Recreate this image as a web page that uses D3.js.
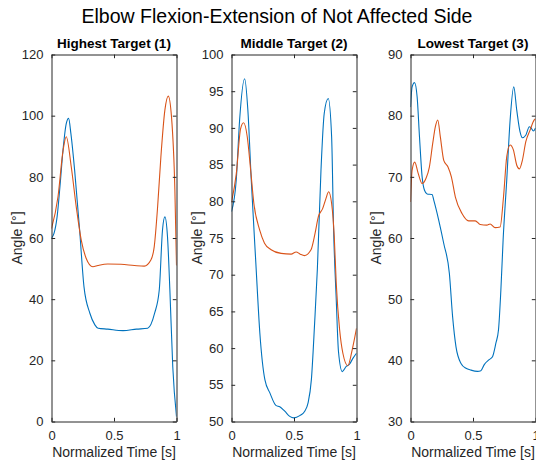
<!DOCTYPE html>
<html>
<head>
<meta charset="utf-8">
<script src="https://cdn.jsdelivr.net/npm/d3@7"></script>
<style>
  body { margin: 0; background: #fff; }
  svg { display: block; font-family: "Liberation Sans", Arial, sans-serif; }
</style>
</head>
<body>
<div class="container"></div>
<script>
const width = 536,
    height = 463,
    top0 = 54.5,
    bottom0 = 421.5,
    panelW = 125;

const panelLefts = [51.5, 231.5, 410.5];

const titles = ["Highest Target (1)", "Middle Target (2)", "Lowest Target (3)"];
const yDomains = [[0, 120], [50, 100], [30, 90]];
const yTicks = [[0, 20, 40, 60, 80, 100, 120], [50, 55, 60, 65, 70, 75, 80, 85, 90, 95, 100], [30, 40, 50, 60, 70, 80, 90]];
const xTicks = [0, 0.5, 1];

// Highest target
const t1Blue = [0, 0.02, 0.045, 0.068, 0.092, 0.118, 0.137, 0.155, 0.185, 0.225, 0.26, 0.307, 0.347, 0.373, 0.45, 0.572, 0.68, 0.77, 0.825, 0.862, 0.888, 0.907, 0.928, 0.947, 0.97, 1];
const v1Blue = [60, 61.5, 67, 77, 88.7, 97.4, 99.1, 94.2, 82.2, 62.6, 44, 35.4, 31.6, 30.5, 30.2, 29.7, 30.2, 30.5, 35.4, 43, 62.6, 66.9, 60.4, 43, 18, 1.6];
const t1Orange = [0, 0.052, 0.092, 0.118, 0.158, 0.198, 0.238, 0.277, 0.331, 0.371, 0.45, 0.556, 0.663, 0.742, 0.795, 0.822, 0.849, 0.875, 0.907, 0.934, 0.96, 0.987, 1];
const v1Orange = [63.1, 73.5, 88.5, 93.1, 83.3, 70.2, 59.3, 53.4, 50.6, 51, 51.5, 51.4, 51, 50.8, 52.8, 57.2, 70.2, 86.5, 101.8, 106.4, 99.6, 75.7, 51];

// Middle target
const t2Blue = [0, 0.038, 0.065, 0.105, 0.131, 0.158, 0.195, 0.227, 0.267, 0.307, 0.355, 0.386, 0.426, 0.466, 0.5, 0.546, 0.586, 0.612, 0.639, 0.665, 0.687, 0.716, 0.742, 0.774, 0.801, 0.817, 0.838, 0.856, 0.886, 0.918, 0.944, 0.971, 1];
const v2Blue = [78.6, 82.9, 91.1, 96.7, 92.4, 82.9, 71.5, 62, 55.7, 53.9, 52.2, 52, 51.4, 50.7, 50.5, 50.8, 51.4, 52.5, 55.7, 63.4, 70.8, 84.3, 92, 94, 88.8, 76, 66.6, 59.5, 56.8, 57.5, 57.8, 58.6, 59.3];
const t2Orange = [0, 0.038, 0.073, 0.097, 0.126, 0.153, 0.179, 0.225, 0.264, 0.317, 0.397, 0.477, 0.517, 0.55, 0.583, 0.636, 0.668, 0.695, 0.729, 0.756, 0.777, 0.801, 0.822, 0.838, 0.865, 0.891, 0.931, 0.966, 1];
const v2Orange = [79.9, 83.7, 89.9, 90.7, 88.8, 84.3, 79.7, 76.1, 74.3, 73.4, 72.9, 72.8, 73.1, 72.8, 72.6, 73.4, 75.6, 77.9, 79, 80.4, 81.3, 79.7, 75.2, 68.8, 62.5, 59.3, 57.6, 59.8, 62.7];

// Lowest target
const t3Blue = [0, 0.013, 0.032, 0.053, 0.072, 0.093, 0.112, 0.133, 0.173, 0.186, 0.226, 0.266, 0.311, 0.337, 0.364, 0.404, 0.444, 0.484, 0.536, 0.563, 0.59, 0.629, 0.656, 0.683, 0.704, 0.723, 0.741, 0.77, 0.797, 0.826, 0.85, 0.876, 0.895, 0.922, 0.951, 0.964, 0.983, 1];
const v3Blue = [81.4, 84.7, 85.4, 83.1, 76.5, 70, 67.8, 67.2, 67.1, 66.2, 62.9, 59.1, 54.2, 47.1, 42.2, 39.5, 38.7, 38.4, 38.2, 38.3, 39.3, 40.1, 40.6, 42.8, 45, 51.5, 59.7, 69.5, 79.3, 84.7, 80.9, 77.4, 76.4, 76.8, 78.2, 78, 77.5, 78];
const t3Orange = [0, 0.013, 0.034, 0.061, 0.093, 0.125, 0.151, 0.178, 0.199, 0.218, 0.239, 0.266, 0.3, 0.327, 0.359, 0.412, 0.465, 0.518, 0.558, 0.611, 0.637, 0.677, 0.717, 0.744, 0.77, 0.797, 0.823, 0.85, 0.871, 0.895, 0.922, 0.956, 0.99, 1];
const v3Orange = [65.9, 71.1, 72.4, 70.6, 68.9, 69.8, 71.6, 75.5, 78.2, 79.3, 76.5, 72.7, 71.6, 70, 66.7, 64, 62.8, 62.8, 62.2, 62.1, 62.3, 61.7, 61.8, 66.7, 73.3, 75.2, 74.4, 71.9, 71.3, 72.7, 75.7, 77.6, 79.3, 79.5];

const seriesByPanel = [
  [[t1Blue, v1Blue], [t1Orange, v1Orange]],
  [[t2Blue, v2Blue], [t2Orange, v2Orange]],
  [[t3Blue, v3Blue], [t3Orange, v3Orange]]
];
const colors = ["#0072BD", "#D95319"];
const axisColor = "#262626";
const tickLen = 3.7;

const svg = d3.select('.container')
  .append('svg')
  .attr('width', width)
  .attr('height', height);

svg.append('text')
  .attr('x', 277)
  .attr('y', 22.5)
  .attr('text-anchor', 'middle')
  .attr('font-size', 19.5)
  .attr('fill', '#000')
  .text("Elbow Flexion-Extension of Not Affected Side");

const drawPanel = (i) => {
  const x0 = panelLefts[i];
  const xScale = d3.scaleLinear().domain([0, 1]).range([x0, x0 + panelW]);
  const yScale = d3.scaleLinear().domain(yDomains[i]).range([bottom0, top0]);
  const g = svg.append('g');

  g.append('clipPath')
    .attr('id', 'clip' + i)
    .append('rect')
    .attr('x', x0).attr('y', top0)
    .attr('width', panelW).attr('height', bottom0 - top0);

  const line = d3.line()
    .x(d => xScale(d[0]))
    .y(d => yScale(d[1]))
    .curve(d3.curveMonotoneX);

  seriesByPanel[i].forEach((s, k) => {
    g.append('path')
      .datum(s[0].map((t, j) => [t, s[1][j]]))
      .attr('clip-path', `url(#clip${i})`)
      .attr('fill', 'none')
      .attr('stroke', colors[k])
      .attr('stroke-width', 1.1)
      .attr('d', line);
  });

  // axes, ticks inward, MATLAB style box
  g.append('g')
    .attr('transform', `translate(0, ${bottom0})`)
    .call(d3.axisBottom(xScale).tickValues(xTicks).tickSizeInner(-tickLen).tickSizeOuter(0).tickPadding(9).tickFormat(d3.format('')));
  g.append('g')
    .attr('transform', `translate(${x0}, 0)`)
    .call(d3.axisLeft(yScale).tickValues(yTicks[i]).tickSizeInner(-tickLen).tickSizeOuter(0).tickPadding(8));
  g.append('g')
    .attr('transform', `translate(0, ${top0})`)
    .call(d3.axisTop(xScale).tickValues(xTicks).tickSizeInner(-tickLen).tickSizeOuter(0).tickFormat(''));
  g.append('g')
    .attr('transform', `translate(${x0 + panelW}, 0)`)
    .call(d3.axisRight(yScale).tickValues(yTicks[i]).tickSizeInner(-tickLen).tickSizeOuter(0).tickFormat(''));

  g.selectAll('.domain').attr('stroke', axisColor);
  g.selectAll('.tick line').attr('stroke', axisColor);
  g.selectAll('.tick text')
    .attr('fill', axisColor)
    .attr('font-size', 13)
    .attr('font-family', '"Liberation Sans", Arial, sans-serif');

  g.append('text')
    .attr('x', x0 + panelW / 2)
    .attr('y', 48)
    .attr('text-anchor', 'middle')
    .attr('font-weight', 'bold')
    .attr('font-size', 13.5)
    .attr('fill', '#000')
    .text(titles[i]);

  g.append('text')
    .attr('x', x0 + panelW / 2)
    .attr('y', 456.5)
    .attr('text-anchor', 'middle')
    .attr('font-size', 14)
    .attr('fill', axisColor)
    .text("Normalized Time [s]");

  g.append('text')
    .attr('transform', `translate(${x0 - 29.5}, ${(top0 + bottom0) / 2}) rotate(-90)`)
    .attr('text-anchor', 'middle')
    .attr('font-size', 14)
    .attr('fill', axisColor)
    .text("Angle [°]");
};

[0, 1, 2].forEach(drawPanel);
</script>
</body>
</html>
